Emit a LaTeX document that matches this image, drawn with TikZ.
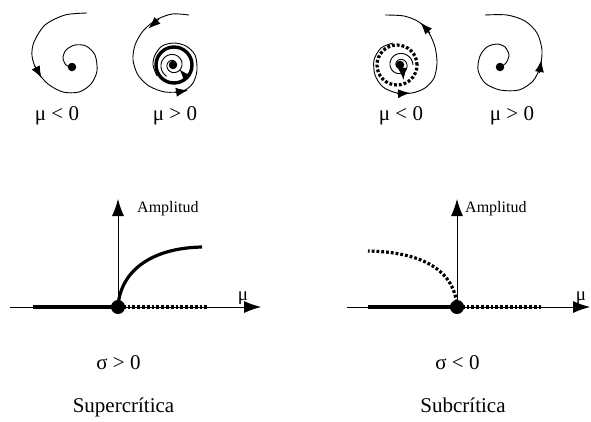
\documentclass[tikz,border=0pt]{standalone}
\usepackage{fontspec}
\setmainfont{Liberation Serif}
\usetikzlibrary{arrows.meta}
\begin{document}
\begin{tikzpicture}[
  x=1pt, y=-1pt,
  every node/.style={inner sep=0pt, anchor=base},
  caselabel/.style={font=\fontsize{21}{25}\selectfont},
  amplabel/.style={font=\fontsize{16}{19}\selectfont, anchor=base west},
  mulabel/.style={font=\fontsize{19}{22}\selectfont},
  title/.style={font=\fontsize{21}{25}\selectfont},
  orbit/.style={line width=0.9pt},
  orbittip/.style={-{Latex[length=12pt,width=9pt]}, line width=0.9pt},
  axis/.style={line width=0.8pt, -{Latex[length=17pt,width=12pt]}},
  stable/.style={line width=3.2pt},
  unstable/.style={line width=3.2pt, dash pattern=on 2.8pt off 2pt},
  limitcycle/.style={line width=3.4pt},
  focus/.style={circle, fill, minimum size=8.5pt, anchor=center},
  bifpoint/.style={circle, fill, minimum size=14pt, anchor=center}
]
\useasboundingbox (0,0) rectangle (591,421);

\draw[orbit] plot[smooth] coordinates {(87,13) (65,15) (45,25) (34,42) (32,56) (37,71) (48,84) (63,92) (79,92) (91,84) (97,71) (95,55) (86,46) (75,45) (66,50) (63,58) (66,65) (72,67)};
\draw[orbittip] (35,66) -- (41.5,78);
\node[focus] (focusA) at (72,67) {};

\draw[limitcycle] (174,65) circle (18pt);
\draw[orbit] plot[smooth] coordinates {(189,15) (172,14) (156,20) (143,31) (135,45) (133,60) (138,75) (149,86) (165,92) (183,91) (193,83) (197,70) (195,55) (186,46) (174,43) (162,46) (155,55) (153,65) (157,76)};
\draw[orbit] plot[domain=0:600, samples=90, smooth, variable=\t] ({173+(3+\t/60)*cos(\t)}, {65-(3+\t/60)*sin(\t)});
\draw[orbittip] (159,19) -- (148.5,28.5);
\draw[orbittip] (175,92.5) -- (188,90.3);
\draw[orbittip] (188,79) -- (179.5,69.5);
\node[focus] (focusB) at (173,65) {};

\draw[unstable] (397,65) circle (20pt);
\draw[orbit] plot[smooth] coordinates {(393,43) (381,48) (374,60) (375,75) (383,87) (397,93) (412,93) (425,88) (434,78) (437,63) (435,47) (429,33) (419,22) (404,16) (385,15)};
\draw[orbit] plot[domain=0:600, samples=90, smooth, variable=\t] ({400+(13-\t/60)*cos(\t)}, {65-(13-\t/60)*sin(\t)});
\draw[orbittip] (397,93.7) -- (410,93);
\draw[orbittip] (430,33) -- (420.5,22.5);
\draw[orbittip] (402.5,68) -- (403.5,80);
\node[focus] (focusC) at (400,65) {};

\draw[orbit] plot[smooth] coordinates {(500,67) (506,63) (509,55) (505,47) (497,44) (487,47) (480,56) (478,70) (485,83) (500,90) (519,90) (533,81) (540,67) (542,50) (537,33) (525,21) (507,15) (485,15)};
\draw[orbittip] (539.3,73) -- (541.4,60);
\node[focus] (focusD) at (500,67) {};

\node[caselabel] (negA) at (57,120) {μ < 0};
\node[caselabel] (posA) at (175,120) {μ > 0};
\node[caselabel] (negB) at (401,120) {μ < 0};
\node[caselabel] (posB) at (512,120) {μ > 0};

\coordinate (supO) at (118,307);
\coordinate (supL) at (10,307);
\coordinate (supR) at (261,307);
\coordinate (supT) at (118,199);
\coordinate (supS) at (33,307);
\coordinate (supU) at (208,307);
\coordinate (supE) at (202,247);
\draw[axis] (supL) -- (supR);
\draw[axis] (supO) -- (supT);
\draw[stable] (supS) -- (supO);
\draw[unstable] (supO) -- (supU);
\draw[stable] (supO) .. controls (120,272) and (150,248) .. (supE);
\node[bifpoint] (supDot) at (supO) {};
\node[amplabel] (supAmp) at (137,212) {Amplitud};
\node[mulabel] (supMu) at (243,300) {μ};
\node[caselabel] (supSigma) at (118.5,369) {σ > 0};
\node[title] (supTitle) at (123.5,412) {Supercrítica};

\coordinate (subO) at (457,307);
\coordinate (subL) at (347,307);
\coordinate (subR) at (590,307);
\coordinate (subT) at (457,199);
\coordinate (subS) at (368,307);
\coordinate (subU) at (542,307);
\coordinate (subE) at (368,251);
\draw[axis] (subL) -- (subR);
\draw[axis] (subO) -- (subT);
\draw[stable] (subS) -- (subO);
\draw[unstable] (subO) -- (subU);
\draw[unstable] (subO) .. controls (455,272) and (425,252) .. (subE);
\node[bifpoint] (subDot) at (subO) {};
\node[amplabel] (subAmp) at (465,212) {Amplitud};
\node[mulabel] (subMu) at (581,300) {μ};
\node[caselabel] (subSigma) at (457.5,369) {σ < 0};
\node[title] (subTitle) at (463,412) {Subcrítica};
\end{tikzpicture}
\end{document}
